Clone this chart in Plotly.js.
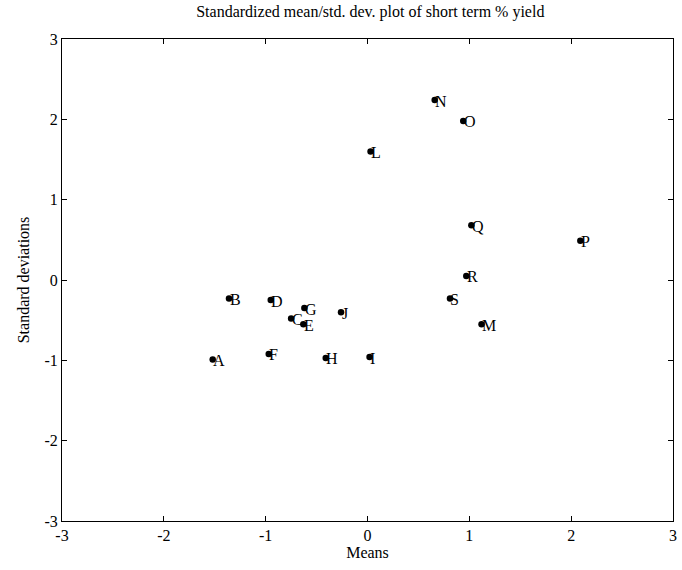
<!DOCTYPE html>
<html>
<head>
<meta charset="utf-8">
<script src="https://cdn.plot.ly/plotly-3.0.1.min.js"></script>
<style>
  html, body { margin: 0; padding: 0; background: #fff; }
  #chart { width: 682px; height: 570px; }
</style>
</head>
<body>
<div id="chart"></div>
<script>
// Standardized mean and standard deviation of short term % yield per series
const labels = ['A', 'B', 'C', 'D', 'E', 'F', 'G', 'H', 'I', 'J', 'L', 'M', 'N', 'O', 'P', 'Q', 'R', 'S'];
const means  = [-1.52, -1.36, -0.75, -0.95, -0.63, -0.97, -0.62, -0.41, 0.02, -0.26, 0.03, 1.12, 0.66, 0.94, 2.09, 1.02, 0.97, 0.81];
const stdDevs = [-0.99, -0.23, -0.48, -0.25, -0.55, -0.92, -0.35, -0.97, -0.96, -0.40, 1.60, -0.55, 2.24, 1.98, 0.49, 0.68, 0.05, -0.23];
const tickVals = [-3, -2, -1, 0, 1, 2, 3];
const serif = 'Liberation Serif, Times New Roman, serif';

const trace = {
  x: means,
  y: stdDevs,
  type: 'scatter',
  mode: 'markers',
  marker: { color: '#000', size: 6.5 },
  hoverinfo: 'skip'
};

// Letter labels start just right of each point, touching the dot
const annotations = labels.map((t, i) => ({
  x: means[i],
  y: stdDevs[i],
  xref: 'x',
  yref: 'y',
  text: t,
  showarrow: false,
  xanchor: 'left',
  yanchor: 'middle',
  xshift: -1.5,
  yshift: -1,
  font: { family: serif, size: 16, color: '#000' }
}));

const axisCommon = {
  range: [-3, 3],
  tickvals: tickVals,
  ticktext: tickVals.map(String),
  ticks: 'inside',
  ticklen: 5,
  tickcolor: '#000',
  tickwidth: 1,
  showline: true,
  linecolor: '#000',
  linewidth: 1,
  mirror: 'ticks',
  showgrid: false,
  zeroline: false,
  tickfont: { family: serif, size: 16, color: '#000' },
  fixedrange: true
};

const layout = {
  width: 682,
  height: 570,
  margin: { l: 62, r: 9, t: 39, b: 49 },
  paper_bgcolor: '#fff',
  plot_bgcolor: '#fff',
  showlegend: false,
  title: {
    text: 'Standardized mean/std. dev. plot of short term % yield',
    font: { family: serif, size: 16, color: '#000' },
    x: 0.543,
    xanchor: 'center',
    y: 0.99,
    yanchor: 'top'
  },
  xaxis: Object.assign({}, axisCommon, {
    title: { text: 'Means', font: { family: serif, size: 16, color: '#000' }, standoff: 2 }
  }),
  yaxis: Object.assign({}, axisCommon, {
    title: { text: 'Standard deviations', font: { family: serif, size: 16, color: '#000' }, standoff: 10 }
  }),
  annotations: annotations
};

Plotly.newPlot('chart', [trace], layout, { displayModeBar: false, staticPlot: true });
</script>
</body>
</html>
